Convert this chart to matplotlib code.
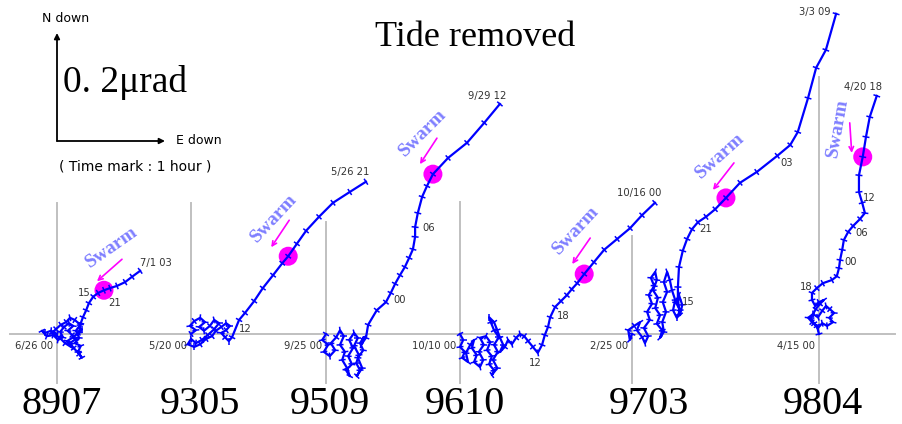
import numpy as np
import matplotlib
matplotlib.use("Agg")
import matplotlib.pyplot as plt
from matplotlib.transforms import Affine2D
from matplotlib.collections import LineCollection

# hourly tilt vectors, tide removed (nrad, + = E down / N down)
E_8907 = [0, -11, -22, -28, -19, -7, 2, 11, 6, 13,
          22, 30, 20, 28, 35, 24, 31, 41, 46, 39,
          44, 33, 41, 35, 43, 33, 24, 17, 7, -2,
          -9, 4, 15, 26, 19, 30, 39, 46, 41, 44,
          48, 54, 59, 67, 76, 87, 98, 111, 126, 139,
          154]
N_8907 = [0, 6, 2, 6, -4, -2, -11, -6, 4, 13,
          20, 15, 6, -2, -9, -17, -26, -37, -44, -33,
          -22, -17, -7, 6, 17, 26, 30, 22, 17, 9,
          2, -6, -17, -24, -13, -6, 2, 9, 2, 20,
          31, 44, 57, 69, 76, 81, 85, 89, 96, 106,
          117]

E_9305 = [0, 9, -2, 6, 17, 26, 15, 24, 35, 43,
          52, 43, 31, 20, 9, 0, -6, 6, 17, 28,
          39, 46, 56, 65, 72, 65, 56, 63, 70, 76,
          89, 100, 117, 133, 152, 169, 180, 196, 213, 237,
          263, 294, 324]
N_9305 = [0, 7, 15, 24, 30, 22, 13, 6, 15, 26,
          20, 9, -2, -11, -17, -9, -19, -24, -19, -9,
          -4, 6, 13, 20, 15, 7, 2, -6, -13, -6,
          26, 39, 61, 85, 109, 131, 144, 167, 191, 217,
          243, 263, 282]

E_9509 = [0, -7, 4, -4, 7, 17, 9, 19, 26, 33,
          26, 35, 30, 39, 44, 37, 48, 41, 50, 43,
          52, 59, 52, 61, 56, 63, 57, 67, 59, 69,
          63, 70, 65, 74, 78, 94, 111, 120, 128, 137,
          146, 154, 161, 165, 165, 170, 178, 187, 198, 226,
          261, 293, 322]
N_9509 = [0, -11, -20, -33, -41, -30, -17, -6, 7, -4,
          -20, -33, -48, -63, -78, -67, -56, -41, -26, -11,
          2, -7, -22, -39, -54, -67, -78, -63, -44, -30,
          -17, -6, -20, -7, 17, 44, 59, 76, 93, 109,
          124, 141, 157, 180, 198, 224, 254, 274, 296, 326,
          354, 391, 426]

E_9610 = [0, 6, 0, 9, 4, 15, 11, 19, 26, 22,
          31, 26, 37, 43, 35, 44, 37, 48, 56, 50,
          59, 54, 63, 59, 69, 61, 70, 63, 72, 63,
          57, 54, 63, 69, 74, 80, 74, 83, 89, 96,
          104, 111, 119, 126, 135, 144, 152, 157, 163, 167,
          176, 187, 198, 207, 217, 230, 248, 267, 291, 315,
          337, 361]
N_9610 = [0, -11, -24, -33, -44, -52, -35, -20, -11, -26,
          -39, -52, -61, -48, -33, -20, -7, -4, -15, -30,
          -41, -56, -67, -76, -63, -48, -33, -20, -6, 7,
          22, 31, 22, 7, -7, -20, -33, -24, -11, -19,
          -7, 0, -4, -13, -24, -35, -20, -2, 13, 31,
          50, 61, 72, 83, 94, 111, 133, 156, 176, 196,
          220, 243]

E_9703 = [0, -4, -7, 4, 15, 9, 19, 24, 30, 22,
          33, 28, 37, 31, 41, 35, 43, 46, 39, 48,
          43, 52, 46, 56, 52, 59, 56, 63, 57, 65,
          59, 65, 70, 74, 80, 76, 83, 89, 81, 87,
          93, 89, 85, 85, 87, 94, 102, 111, 122, 137,
          154, 174, 200, 231, 269, 293, 307, 326, 341, 359,
          378]
N_9703 = [0, -11, 7, 15, 22, 7, -6, -17, -4, 11,
          26, 41, 56, 72, 89, 104, 115, 100, 81, 67,
          48, 35, 19, 7, -7, 4, 22, 41, 59, 78,
          96, 115, 100, 81, 63, 44, 30, 44, 59, 72,
          54, 35, 63, 87, 124, 154, 176, 194, 207, 217,
          231, 252, 280, 300, 330, 350, 374, 437, 493, 526,
          593]

E_9804 = [0, -4, -13, -20, -11, -2, 6, 13, 20, 28,
          19, 26, 15, 6, -2, -9, -15, -6, 2, 9,
          0, -7, -13, -13, -4, 7, 24, 33, 37, 39,
          43, 46, 54, 63, 76, 85, 80, 74, 74, 81,
          87, 94, 107]
N_9804 = [0, 15, 22, 30, 37, 31, 43, 52, 46, 39,
          30, 22, 15, 20, 11, 19, 30, 46, 56, 63,
          59, 52, 63, 76, 85, 94, 100, 107, 122, 137,
          156, 174, 189, 200, 213, 224, 243, 263, 294, 328,
          365, 402, 441]

EVENTS = ["8907", "9305", "9509", "9610", "9703", "9804"]
E_ALL = [E_8907, E_9305, E_9509, E_9610, E_9703, E_9804]
N_ALL = [N_8907, N_9305, N_9509, N_9610, N_9703, N_9804]
START_LABELS = ["6/26 00", "5/20 00", "9/25 00", "10/10 00", "2/25 00", "4/15 00"]
END_LABELS = ["7/1 03", "5/26 21", "9/29 12", "10/16 00", "3/3 09", "4/20 18"]
SWARM_IDX = [45, 36, 48, 55, 51, 39]
HOUR_LABELS = [("15", 84, 293), ("21", 115, 303), ("12", 245, 329),
               ("00", 400, 300), ("06", 429, 228), ("12", 535, 363),
               ("18", 563, 316), ("21", 706, 229), ("03", 787, 163),
               ("15", 688, 302), ("12", 869, 198), ("06", 862, 233),
               ("00", 851, 262), ("18", 806, 287)]

# layout, in image pixels
W, H = 902, 424
BASE_Y = 334
PX_PER_NRAD = 108 / 200          # 0.2 urad = 108 px
ORIGIN_X = [57, 191, 326, 460, 632, 819]
VLINE_TOP = [203, 203, 222, 202, 236, 77]
NAME_X = [62, 200, 330, 465, 649, 823]
END_OFF = [(16, -8), (-16, -10), (-13, -8), (-16, -10), (-21, -2), (-14, -9)]
SWARM_TXT = [(8, -43, 35), (-14, -38, 47), (-10, -41, 45), (-8, -44, 47), (-6, -42, 42), (-25, -29, 80)]
SWARM_ARR = [((18, -31), (-7, -9)), ((1, -36), (-17, -9)), ((4, -36), (-13, -10)),
             ((6, -36), (-12, -10)), ((8, -35), (-13, -8)), ((-13, -34), (-11, -4))]

BLUE = "#0000ff"
MAGENTA = "#ff00ff"
SWARM_COL = "#7f7fff"
GRAY = "#c0c0c0"
SERIF = "Liberation Serif"

fig = plt.figure(figsize=(W / 100, H / 100), dpi=100)
ax = fig.add_axes([0, 0, 1, 1])
ax.set_xlim(0, W)
ax.set_ylim(H, 0)
ax.axis("off")

# baseline and origin lines
ax.plot([10, 895], [BASE_Y, BASE_Y], color=GRAY, lw=1.4, zorder=1)
for x0, top in zip(ORIGIN_X, VLINE_TOP):
    ax.plot([x0, x0], [top, 383], color=GRAY, lw=1.4, zorder=1)


def tick_segments(e, n, half):
    p = np.column_stack([e, n]).astype(float)
    d = np.gradient(p, axis=0)
    nrm = np.hypot(d[:, 0], d[:, 1])
    nrm[nrm == 0] = 1
    ux, uy = -d[:, 1] / nrm, d[:, 0] / nrm
    return [[(x - a * half, y - b * half), (x + a * half, y + b * half)]
            for x, y, a, b in zip(p[:, 0], p[:, 1], ux, uy)]


half = 3.5 / PX_PER_NRAD
for i, name in enumerate(EVENTS):
    e, n = E_ALL[i], N_ALL[i]
    x0 = ORIGIN_X[i]
    tr = Affine2D().scale(PX_PER_NRAD, -PX_PER_NRAD).translate(x0, BASE_Y) + ax.transData

    ax.plot(e, n, color=BLUE, lw=1.6, transform=tr, zorder=3)
    ax.add_collection(LineCollection(tick_segments(e, n, half), colors=BLUE,
                                     linewidths=1.1, transform=tr, zorder=3))

    k = SWARM_IDX[i]
    ax.add_patch(plt.Circle((e[k], n[k]), 9.5 / PX_PER_NRAD, color=MAGENTA,
                            transform=tr, zorder=2, lw=0))
    sx, sy = ax.transData.inverted().transform(tr.transform((e[k], n[k])))
    tx, ty, rot = SWARM_TXT[i]
    ax.text(sx + tx, sy + ty, "Swarm", rotation=rot, ha="center", va="center",
            family=SERIF, weight="bold", fontsize=14, color=SWARM_COL, zorder=4)
    (ax0, ay0), (ax1, ay1) = SWARM_ARR[i]
    ax.annotate("", xy=(sx + ax1, sy + ay1), xytext=(sx + ax0, sy + ay0),
                arrowprops=dict(arrowstyle="->", color=MAGENTA, lw=1.2,
                                mutation_scale=8, shrinkA=0, shrinkB=0), zorder=4)

    # start / end dates
    ax.text(x0 - 4, BASE_Y + 12, START_LABELS[i], ha="right", va="center",
            fontsize=7.2, color="#333333")
    ex, ey = ax.transData.inverted().transform(tr.transform((e[-1], n[-1])))
    ax.text(ex + END_OFF[i][0], ey + END_OFF[i][1], END_LABELS[i], ha="center",
            va="center", fontsize=7.2, color="#333333")

    ax.text(NAME_X[i], 405, name, ha="center", va="center", family=SERIF,
            fontsize=29, color="black")

for txt, x, y in HOUR_LABELS:
    ax.text(x, y, txt, ha="center", va="center", fontsize=7.2, color="#333333")

# scale bar
L = 200 * PX_PER_NRAD
cx, cy = 57, 141
ax.annotate("", xy=(cx, cy - L), xytext=(cx, cy),
            arrowprops=dict(arrowstyle="-|>", color="black", lw=1.3,
                            mutation_scale=8, shrinkA=0, shrinkB=0))
ax.annotate("", xy=(cx + L, cy), xytext=(cx, cy),
            arrowprops=dict(arrowstyle="-|>", color="black", lw=1.3,
                            mutation_scale=8, shrinkA=0, shrinkB=0))
ax.text(66, 19, "N down", ha="center", va="center", fontsize=9)
ax.text(176, 141, "E down", ha="left", va="center", fontsize=9)
ax.text(63, 82, "0. 2\u03bcrad", ha="left", va="center", family=SERIF, fontsize=27)
ax.text(135, 167, "( Time mark : 1 hour )", ha="center", va="center", fontsize=10)

ax.text(475, 38, "Tide removed", ha="center", va="center", family=SERIF, fontsize=26)

fig.savefig("out.png", dpi=100)
